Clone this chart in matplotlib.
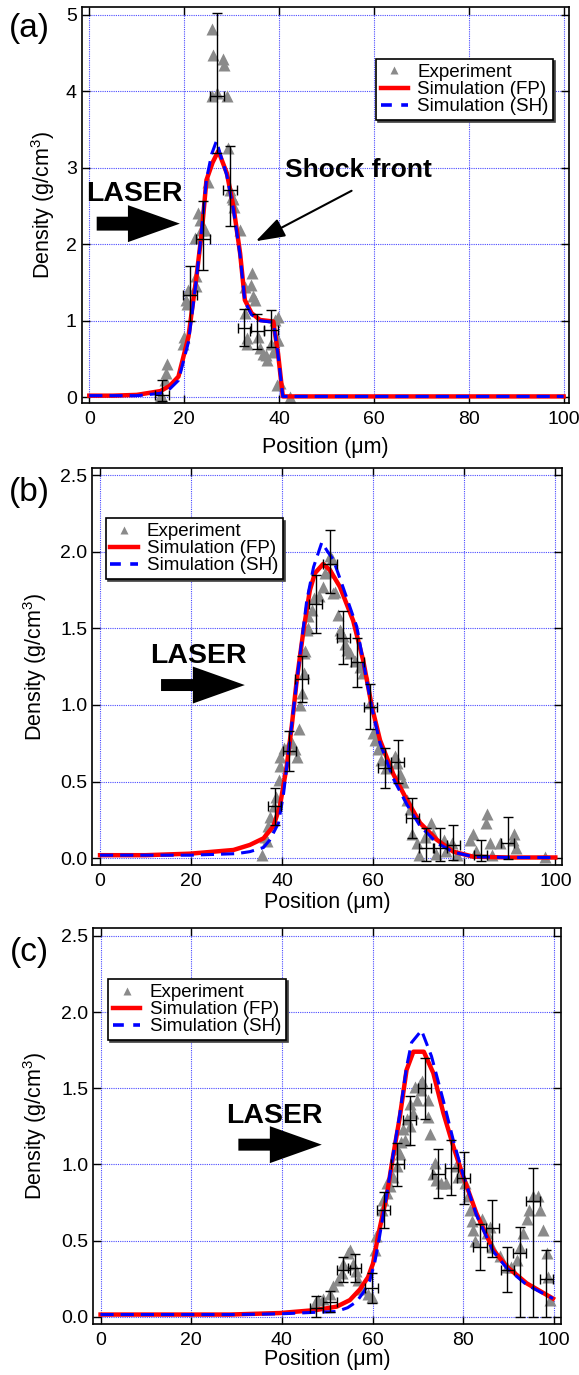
import matplotlib
matplotlib.use("Agg")
import matplotlib.pyplot as plt
from matplotlib.lines import Line2D
from matplotlib.ticker import FormatStrFormatter

plt.rcParams['font.family'] = ['Liberation Sans', 'DejaVu Sans']
plt.rcParams['mathtext.fontset'] = 'custom'
plt.rcParams['mathtext.rm'] = 'Liberation Sans'
plt.rcParams['mathtext.it'] = 'Liberation Sans:italic'
plt.rcParams['mathtext.bf'] = 'Liberation Sans:bold'

# ---------------- panel (a) ----------------
a_fp_x = [0, 5, 10, 15, 17, 18.8, 20.9, 22.6, 23.7, 24.7, 26.0, 27.2, 29.0, 30.4, 31.8,
          32.8, 34.2, 36.0, 38.8, 39.8, 40.8, 42, 50, 60, 70, 80, 90, 100]
a_fp_y = [0.02, 0.02, 0.03, 0.08, 0.15, 0.27, 0.79, 1.58, 2.15, 2.84, 3.07, 3.22, 2.93, 2.49, 1.88,
          1.27, 1.10, 1.01, 0.99, 0.57, 0.01, 0.01, 0.01, 0.01, 0.01, 0.01, 0.01, 0.01]
a_sh_x = [0, 5, 10, 15, 17, 18.8, 20.9, 22.6, 23.7, 24.7, 25.8, 26.8, 28.0, 29.0, 30.4, 31.8,
          32.8, 34.2, 36.0, 38.8, 39.8, 40.8, 42, 50, 60, 70, 80, 90, 100]
a_sh_y = [0.02, 0.02, 0.02, 0.05, 0.11, 0.22, 0.72, 1.55, 2.20, 2.85, 3.18, 3.35, 3.10, 2.90, 2.45, 1.85,
          1.25, 1.08, 1.00, 0.98, 0.55, 0.01, 0.01, 0.01, 0.01, 0.01, 0.01, 0.01, 0.01]
a_exp_x = [15.0, 15.1, 16.0, 16.1, 16.3, 19.8, 19.9, 20.4, 20.6, 20.9, 22.2, 22.4, 22.6, 23.0,
           23.3, 23.6, 24.4, 25.1, 25.8, 26.1, 25.8, 26.9, 28.2, 28.3, 29.0, 29.3, 29.7, 30.1,
           30.4, 30.6, 31.8, 32.8, 32.9, 33.2, 33.3, 34.0, 34.2, 34.6, 34.9, 35.6, 35.9, 36.6,
           37.3, 37.4, 38.4, 38.8, 39.1, 39.5, 39.8, 39.8, 40.2, 39.5, 42.3]
a_exp_y = [0.00, 0.03, 0.22, 0.31, 0.44, 0.70, 0.79, 1.27, 1.22, 1.40, 2.08, 1.58, 1.45, 2.41,
           2.32, 2.19, 2.19, 2.82, 4.81, 4.48, 3.94, 3.98, 4.42, 4.35, 3.94, 3.26, 2.71, 2.62,
           2.59, 2.49, 2.19, 1.44, 1.10, 0.78, 0.70, 1.47, 1.62, 1.33, 1.27, 0.79, 0.64, 0.57,
           0.55, 0.48, 0.70, 0.59, 1.01, 0.75, 1.05, 0.75, 0.18, 0.16, 0.00]
a_err_x = [15.25, 21.2, 23.9, 26.85, 29.65, 32.7, 35.4, 38.3]
a_err_y = [0.03, 1.34, 2.07, 3.94, 2.71, 0.90, 0.86, 0.88]
a_err_lo = [0.08, 0.34, 0.40, 0.75, 0.47, 0.23, 0.23, 0.22]
a_err_hi = [0.20, 0.37, 0.49, 1.08, 0.58, 0.26, 0.23, 0.26]

# ---------------- panel (b) ----------------
b_fp_x = [0, 10, 19.8, 29.3, 32.9, 35.9, 38.1, 39.5, 41.0, 42.1, 43.2, 44.7, 46.1, 47.2, 49.0,
          50.5, 52.7, 55.6, 57.8, 59.7, 61.5, 64.4, 67.4, 70.3, 74.0, 77.6, 82.0, 90, 100]
b_fp_y = [0.02, 0.02, 0.03, 0.054, 0.087, 0.13, 0.21, 0.34, 0.60, 0.86, 1.16, 1.49, 1.75, 1.86, 1.92,
          1.88, 1.77, 1.55, 1.29, 0.99, 0.77, 0.55, 0.38, 0.23, 0.12, 0.043, 0.01, 0.005, 0.005]
b_sh_x = [0, 10, 20, 30, 32.9, 35.9, 37.3, 39.2, 40.3, 41.7, 42.8, 44.3, 45.4, 46.9, 48.7,
          50.0, 51.2, 53.0, 56.4, 59.7, 61.5, 64.4, 67.4, 70.3, 74.0, 77.6, 82, 90, 100]
b_sh_y = [0.02, 0.02, 0.02, 0.03, 0.043, 0.07, 0.12, 0.23, 0.42, 0.77, 1.05, 1.42, 1.68, 1.90, 2.06,
          2.00, 1.95, 1.80, 1.51, 0.98, 0.75, 0.52, 0.35, 0.21, 0.10, 0.04, 0.01, 0.005, 0.005]
b_exp_x = [35.5, 36.3, 36.6, 36.9, 37.3, 38.1, 38.6, 39.2, 39.5, 39.5, 40.3, 41.0, 42.1, 42.8,
           43.2, 43.6, 43.9, 44.3, 44.7, 44.7, 45.0, 45.4, 45.6, 45.7, 46.5, 46.9, 48.0, 49.0,
           49.4, 50.5, 50.5, 50.9, 51.2, 51.6, 52.3, 52.7, 53.0, 53.4, 53.7, 54.2, 54.9, 56.0,
           57.1, 57.8, 59.3, 60.0, 60.3, 61.1, 61.8, 62.9, 64.8, 65.2, 65.9, 66.6, 67.4, 68.1,
           68.5, 69.6, 70.0, 71.4, 72.8, 73.1, 73.9, 75.5, 76.0, 77.3, 78.4, 81.3, 82.0, 82.6,
           84.9, 84.7, 85.6, 86.0, 87.9, 90.8, 91.0, 91.3, 97.7]
b_exp_y = [0.02, 0.14, 0.11, 0.21, 0.27, 0.34, 0.40, 0.51, 0.60, 0.66, 0.72, 0.72, 0.75, 0.71,
           0.66, 0.84, 1.00, 1.08, 1.21, 1.34, 1.35, 1.49, 1.58, 1.50, 1.62, 1.70, 1.71, 1.77,
           1.86, 1.87, 1.97, 1.95, 1.73, 1.74, 1.59, 1.49, 1.47, 1.45, 1.40, 1.36, 1.34, 1.29,
           1.25, 1.21, 1.01, 0.82, 0.77, 0.71, 0.64, 0.59, 0.67, 0.62, 0.55, 0.50, 0.38, 0.32,
           0.16, 0.10, 0.02, 0.14, 0.23, 0.16, 0.03, 0.12, 0.05, 0.10, 0.02, 0.12, 0.16, 0.05,
           0.29, 0.23, 0.10, 0.02, 0.10, 0.12, 0.16, 0.07, 0.01]
b_err_x = [38.4, 41.6, 44.3, 47.4, 50.5, 53.4, 56.5, 59.4, 62.5, 65.4, 68.6, 71.6, 74.7, 77.6, 83.6, 89.5]
b_err_y = [0.34, 0.70, 1.17, 1.66, 1.92, 1.44, 1.28, 0.99, 0.59, 0.63, 0.26, 0.065, 0.065, 0.087, 0.02, 0.098]
b_err_lo = [0.12, 0.13, 0.15, 0.19, 0.19, 0.17, 0.16, 0.15, 0.13, 0.14, 0.13, 0.08, 0.08, 0.10, 0.04, 0.10]
b_err_hi = [0.12, 0.13, 0.15, 0.19, 0.22, 0.17, 0.16, 0.15, 0.13, 0.14, 0.13, 0.13, 0.13, 0.13, 0.10, 0.17]

# ---------------- panel (c) ----------------
c_fp_x = [0, 10, 20, 28.5, 39.6, 47.6, 52.1, 55.0, 57.2, 59.0, 60.1, 61.2, 63.1, 64.5, 66.0,
          67.5, 69.0, 71.3, 73.4, 75.6, 77.8, 80.0, 82.9, 86.6, 89.6, 94.0, 99.8]
c_fp_y = [0.015, 0.015, 0.015, 0.015, 0.025, 0.045, 0.067, 0.11, 0.18, 0.26, 0.35, 0.53, 0.79, 1.05, 1.31,
          1.62, 1.74, 1.74, 1.60, 1.34, 1.12, 0.92, 0.68, 0.44, 0.33, 0.22, 0.12]
c_sh_x = [0, 10, 20, 30, 40, 47.6, 52.1, 54.5, 56.5, 58.2, 59.4, 60.5, 61.5, 63.1, 64.5, 66.0,
          67.5, 68.6, 70.8, 73.0, 75.6, 77.8, 80.0, 82.9, 86.6, 89.6, 94.0, 99.8]
c_sh_y = [0.015, 0.015, 0.015, 0.015, 0.02, 0.03, 0.035, 0.06, 0.10, 0.17, 0.24, 0.36, 0.52, 0.80, 1.06, 1.33,
          1.64, 1.80, 1.88, 1.71, 1.42, 1.16, 0.93, 0.67, 0.43, 0.32, 0.21, 0.12]
c_exp_x = [47.3, 48.0, 49.0, 50.6, 51.3, 52.4, 53.2, 53.5, 54.6, 55.0, 55.7, 56.3, 56.8, 57.6,
           59.0, 59.8, 60.5, 60.8, 62.0, 62.3, 63.1, 63.1, 63.8, 64.5, 65.3, 65.3, 66.0, 66.3,
           66.8, 67.1, 67.5, 68.2, 68.2, 69.0, 69.3, 69.7, 70.4, 70.8, 70.6, 72.3, 72.3, 72.6,
           73.4, 73.7, 74.1, 75.2, 76.2, 78.5, 78.9, 80.4, 81.1, 81.5, 81.9, 82.2, 82.5, 84.1,
           85.2, 85.9, 86.4, 88.1, 89.6, 90.5, 91.8, 92.5, 93.2, 94.0, 94.6, 95.4, 96.5, 96.9,
           97.7, 98.4, 98.8, 99.1]
c_exp_y = [0.09, 0.11, 0.12, 0.15, 0.20, 0.24, 0.29, 0.35, 0.42, 0.44, 0.35, 0.30, 0.24, 0.18,
           0.15, 0.13, 0.44, 0.53, 0.70, 0.77, 0.81, 0.88, 0.86, 0.92, 0.99, 1.10, 1.07, 1.15,
           1.23, 1.16, 1.30, 1.25, 1.40, 1.34, 1.51, 1.42, 1.53, 1.55, 1.49, 1.42, 1.31, 1.20,
           0.94, 1.01, 0.90, 0.88, 0.88, 0.99, 0.92, 0.88, 0.79, 0.70, 0.63, 0.57, 0.50, 0.64,
           0.55, 0.59, 0.46, 0.40, 0.33, 0.33, 0.37, 0.46, 0.55, 0.64, 0.70, 0.79, 0.79, 0.70,
           0.57, 0.42, 0.26, 0.11]
c_err_x = [47.6, 50.6, 53.5, 56.1, 59.8, 62.5, 65.5, 68.2, 71.5, 74.5, 77.4, 80.1, 83.7, 86.4, 89.7, 92.5, 95.4, 98.3]
c_err_y = [0.06, 0.10, 0.31, 0.32, 0.19, 0.70, 1.00, 1.29, 1.50, 0.94, 0.98, 0.91, 0.46, 0.58, 0.31, 0.42, 0.76, 0.25]
c_err_lo = [0.06, 0.065, 0.08, 0.09, 0.10, 0.12, 0.14, 0.16, 0.20, 0.16, 0.18, 0.17, 0.15, 0.19, 0.15, 0.42, 0.76, 0.25]
c_err_hi = [0.08, 0.07, 0.08, 0.09, 0.10, 0.12, 0.14, 0.16, 0.20, 0.16, 0.18, 0.17, 0.15, 0.19, 0.15, 0.17, 0.22, 0.19]

x_ticks = [0, 20, 40, 60, 80, 100]
a_yticks = [0, 1, 2, 3, 4, 5]
bc_yticks = [0.0, 0.5, 1.0, 1.5, 2.0, 2.5]
legend_labels = ["Experiment", "Simulation (FP)", "Simulation (SH)"]
x_err_half = 1.45

RED = "#ff0000"
BLUE = "#0000ff"
GRAY = "#8a8a8a"
GRID = "#4a4aff"
W, H = 579.0, 1375.0

fig = plt.figure(figsize=(W / 100, H / 100), dpi=100)


def add_panel(box, xlim, ylim, yticks, yfmt, fp, sh, exp, err, leg_loc, leg_anchor,
              ylab_x, xlab_y):
    left, top, right, bottom = box
    ax = fig.add_axes([left / W, 1 - bottom / H, (right - left) / W, (bottom - top) / H])
    ax.set_xlim(*xlim)
    ax.set_ylim(*ylim)
    ax.set_xticks(x_ticks)
    ax.set_yticks(yticks)
    ax.yaxis.set_major_formatter(FormatStrFormatter(yfmt))
    ax.grid(True, color=GRID, linestyle=(0, (1, 1)), linewidth=0.8)
    ax.set_axisbelow(True)
    ax.tick_params(direction="in", top=True, right=True, length=6, width=1.0,
                   labelsize=14, colors="k")
    ax.tick_params(axis="x", pad=5.5)
    ax.tick_params(axis="y", pad=3.5)
    for sp in ax.spines.values():
        sp.set_linewidth(1.2)

    ax.plot(exp[0], exp[1], ls="none", marker="^", ms=8, mfc=GRAY, mec="none", zorder=2)
    ax.plot(fp[0], fp[1], color=RED, lw=3.2, solid_joinstyle="round", zorder=4)
    ax.plot(sh[0], sh[1], color=BLUE, lw=2.2, dashes=(4.3, 2.3), zorder=5)
    ax.errorbar(err[0], err[1], yerr=[err[2], err[3]], xerr=x_err_half, fmt="none",
                ecolor="k", elinewidth=1.0, capsize=3.5, capthick=1.0, zorder=6)

    handles = [
        Line2D([], [], ls="none", marker="^", ms=6, mfc=GRAY, mec="none"),
        Line2D([], [], color=RED, lw=3.2),
        Line2D([], [], color=BLUE, lw=2.6, dashes=(3.0, 2.6)),
    ]
    leg = ax.legend(handles, legend_labels, loc=leg_loc, bbox_to_anchor=leg_anchor,
                    borderaxespad=0, fontsize=13.5, frameon=True, fancybox=False,
                    handlelength=1.45, handletextpad=0.5, labelspacing=0.0,
                    borderpad=0.25, framealpha=1,
                    shadow={"ox": 1.5, "oy": -1.5, "facecolor": "0.25",
                            "edgecolor": "0.25", "alpha": 1})
    leg.get_frame().set_edgecolor("k")
    leg.get_frame().set_linewidth(1.2)
    leg.set_zorder(10)

    ax.set_xlabel("Position (\u03bcm)", fontsize=15.5)
    ax.set_ylabel("Density (g/cm$^3$)", fontsize=15.5)
    ax.xaxis.set_label_coords(0.5, xlab_y)
    ax.yaxis.set_label_coords(ylab_x, 0.5)
    return ax


def laser(ax, text_xy, tail, tip, tail_w):
    ax.text(text_xy[0], text_xy[1], "LASER", fontsize=20.5, fontweight="bold",
            ha="left", va="baseline", zorder=7)
    ax.annotate("", xy=tip, xytext=tail,
                arrowprops=dict(arrowstyle="simple,head_length=1.87,head_width=1.33,"
                                           "tail_width=%.2f" % tail_w,
                                fc="k", ec="none", shrinkA=0, shrinkB=0,
                                mutation_scale=20), zorder=7)


ax_a = add_panel((81.7, 7.3, 569.3, 403.3), (-1.6, 101.2), (-0.08, 5.1), a_yticks, "%d",
                 (a_fp_x, a_fp_y), (a_sh_x, a_sh_y), (a_exp_x, a_exp_y),
                 (a_err_x, a_err_y, a_err_lo, a_err_hi), "upper right", (0.967, 0.869),
                 -0.051, -0.085)
laser(ax_a, (-0.7, 2.56), (1.56, 2.27), (19.1, 2.27), 0.5)
ax_a.text(41.2, 2.88, "Shock front", fontsize=19, fontweight="bold", ha="left",
          va="baseline", zorder=7)
ax_a.annotate("", xy=(35.1, 2.04), xytext=(55.3, 2.70),
              arrowprops=dict(arrowstyle="-|>,head_length=0.9,head_width=0.3",
                              color="k", lw=1.5, shrinkA=0, shrinkB=0, mutation_scale=20),
              zorder=7)

ax_b = add_panel((92.3, 468.0, 561.7, 865.0), (-1.7, 101.4), (-0.044, 2.546), bc_yticks, "%.1f",
                 (b_fp_x, b_fp_y), (b_sh_x, b_sh_y), (b_exp_x, b_exp_y),
                 (b_err_x, b_err_y, b_err_lo, b_err_hi), "upper left", (0.0285, 0.873),
                 -0.093, -0.069)
laser(ax_b, (11.0, 1.276), (13.4, 1.13), (31.8, 1.13), 0.43)

ax_c = add_panel((93.3, 928.3, 560.7, 1324.0), (-1.6, 101.5), (-0.047, 2.55), bc_yticks, "%.1f",
                 (c_fp_x, c_fp_y), (c_sh_x, c_sh_y), (c_exp_x, c_exp_y),
                 (c_err_x, c_err_y, c_err_lo, c_err_hi), "upper left", (0.0321, 0.871),
                 -0.094, -0.064)
laser(ax_c, (27.8, 1.27), (30.4, 1.13), (48.8, 1.13), 0.43)

for lab, yc in (("(a)", 28.5), ("(b)", 493.0), ("(c)", 952.0)):
    fig.text(29 / W, 1 - yc / H, lab, fontsize=24, ha="center", va="center")

fig.savefig("out.png", dpi=100)
